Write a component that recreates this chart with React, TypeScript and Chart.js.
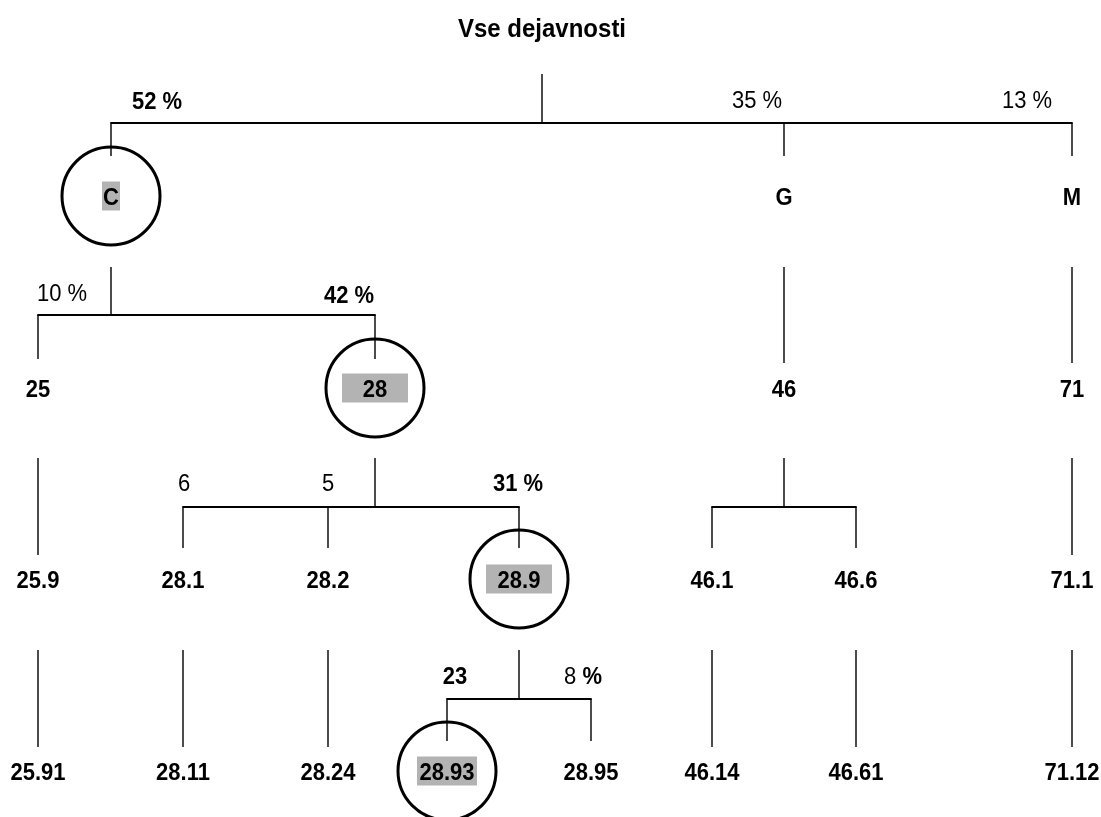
import React, { useEffect, useRef } from "react";
import { Chart, registerables } from "chart.js";

Chart.register(...registerables);

const FONT = '"Liberation Sans", Arial, Helvetica, sans-serif';

// ---- tree data ----
const nodeLabels = [
  "Vse dejavnosti",
  "C", "G", "M",
  "25", "28", "46", "71",
  "25.9", "28.1", "28.2", "28.9", "46.1", "46.6", "71.1",
  "25.91", "28.11", "28.24", "28.93", "28.95", "46.14", "46.61", "71.12",
];
const nodeLevel = [0, 1, 1, 1, 2, 2, 2, 2, 3, 3, 3, 3, 3, 3, 3, 4, 4, 4, 4, 4, 4, 4, 4];
const nodeParent = [-1, 0, 0, 0, 1, 1, 2, 3, 4, 5, 5, 5, 6, 6, 7, 8, 9, 10, 11, 11, 12, 13, 14];
// horizontal position of each node in the diagram
const nodeX = [542, 111, 784, 1072, 38, 375, 784, 1072, 38, 183, 328, 519, 712, 856, 1072, 38, 183, 328, 447, 591, 712, 856, 1072];
const highlightedNodes = [1, 5, 11, 18];

// shares shown above the branches
const shareTexts = ["52 %", "35 %", "13 %", "10 %", "42 %", "6", "5", "31 %", "23", "8 %"];
const shareWeight = ["bold", "normal", "normal", "normal", "bold", "normal", "normal", "bold", "bold", "mixed"];
const shareX = [157, 757, 1027, 62, 349, 184, 328, 518, 455, 583];
const shareY = [100, 99, 99, 292, 294, 482, 482, 482, 675, 675];

// ---- layout (vertical positions per level) ----
const levelLabelY = [28, 196, 388, 579, 771];
const levelStemTop = [74, 267, 458, 650];
const levelBarY = [123, 315, 507, 699];
const levelDropEnd = [156, 359, 548, 741];
const levelSingleEnd = [156, 363, 555, 747];
const highlightBoxWidths = [18, 66, 66, 60];

const FONT_SIZE = 22;
const TITLE_SIZE = 24;
const TEXT_STRETCH = 1.1;

function buildLineDatasets() {
  const sets: any[] = [];
  const seg = (pts: { x: number; y: number }[], w: number) => ({
    type: "line",
    data: pts,
    showLine: true,
    borderColor: "#000",
    borderWidth: w,
    pointRadius: 0,
    fill: false,
    tension: 0,
    clip: false,
    borderCapStyle: "butt",
  });
  for (let p = 0; p < nodeLabels.length; p++) {
    const kids: number[] = [];
    nodeParent.forEach((par, i) => { if (par === p) kids.push(i); });
    if (!kids.length) continue;
    const l = nodeLevel[p];
    const px = nodeX[p];
    if (kids.length === 1) {
      sets.push(seg([{ x: px, y: levelStemTop[l] }, { x: px, y: levelSingleEnd[l] }], 1.4));
    } else {
      const xs = kids.map((k) => nodeX[k]);
      const lo = Math.min(...xs), hi = Math.max(...xs);
      sets.push(seg([{ x: px, y: levelStemTop[l] }, { x: px, y: levelBarY[l] }], 1.4));
      sets.push(seg([{ x: lo - 0.7, y: levelBarY[l] }, { x: hi + 0.7, y: levelBarY[l] }], 2.2));
      kids.forEach((k) => {
        sets.push(seg([{ x: nodeX[k], y: levelBarY[l] }, { x: nodeX[k], y: levelDropEnd[l] }], 1.4));
      });
    }
  }
  return sets;
}

function drawText(ctx: any, t: string, cx: number, cy: number, size: number, align: string) {
  ctx.save();
  ctx.translate(cx, cy);
  ctx.scale(1, TEXT_STRETCH);
  ctx.textAlign = align;
  ctx.textBaseline = "alphabetic";
  ctx.fillText(t, 0, size * 0.358);
  ctx.restore();
}

const labelPlugin = {
  id: "treeLabels",
  afterDatasetsDraw(chart: any) {
    const ctx = chart.ctx;
    const xs = chart.scales.x;
    const ys = chart.scales.y;
    ctx.save();
    // grey highlight boxes
    highlightedNodes.forEach((n, i) => {
      const cx = xs.getPixelForValue(nodeX[n]);
      const cy = ys.getPixelForValue(levelLabelY[nodeLevel[n]]);
      const w = highlightBoxWidths[i];
      ctx.fillStyle = "#b3b3b3";
      ctx.fillRect(cx - w / 2, cy - 14.5, w, 29);
    });
    // node labels
    ctx.fillStyle = "#000";
    nodeLabels.forEach((t, n) => {
      const cx = xs.getPixelForValue(nodeX[n]);
      const cy = ys.getPixelForValue(levelLabelY[nodeLevel[n]]);
      const size = nodeLevel[n] === 0 ? TITLE_SIZE : FONT_SIZE;
      ctx.font = `bold ${size}px ${FONT}`;
      drawText(ctx, t, cx, cy, size, "center");
    });
    // share labels
    shareTexts.forEach((t, i) => {
      const cx = xs.getPixelForValue(shareX[i]);
      const cy = ys.getPixelForValue(shareY[i]);
      if (shareWeight[i] === "mixed") {
        const idx = t.indexOf("%");
        const a = t.slice(0, idx);
        const b = t.slice(idx);
        ctx.font = `${FONT_SIZE}px ${FONT}`;
        const wa = ctx.measureText(a).width;
        ctx.font = `bold ${FONT_SIZE}px ${FONT}`;
        const wb = ctx.measureText(b).width;
        const start = cx - (wa + wb) / 2;
        ctx.font = `${FONT_SIZE}px ${FONT}`;
        drawText(ctx, a, start, cy, FONT_SIZE, "left");
        ctx.font = `bold ${FONT_SIZE}px ${FONT}`;
        drawText(ctx, b, start + wa, cy, FONT_SIZE, "left");
      } else {
        ctx.font = `${shareWeight[i] === "bold" ? "bold " : ""}${FONT_SIZE}px ${FONT}`;
        drawText(ctx, t, cx, cy, FONT_SIZE, "center");
      }
    });
    ctx.restore();
  },
};

export default function App() {
  const ref = useRef<HTMLCanvasElement | null>(null);
  useEffect(() => {
    if (!ref.current) return;
    const circleData = highlightedNodes.map((n) => ({ x: nodeX[n], y: levelLabelY[nodeLevel[n]] }));
    const chart = new Chart(ref.current, {
      type: "scatter",
      data: {
        datasets: [
          ...buildLineDatasets(),
          {
            type: "scatter",
            data: circleData,
            pointStyle: "circle",
            pointRadius: 49,
            pointBorderWidth: 3,
            pointBackgroundColor: "rgba(0,0,0,0)",
            pointBorderColor: "#000",
            clip: false,
          } as any,
        ],
      },
      options: {
        animation: false,
        responsive: true,
        maintainAspectRatio: false,
        events: [],
        layout: { padding: 0, autoPadding: false },
        plugins: { legend: { display: false }, tooltip: { enabled: false } },
        scales: {
          x: { type: "linear", min: 0, max: 1101, display: false },
          y: { type: "linear", min: 0, max: 817, reverse: true, display: false },
        },
      },
      plugins: [labelPlugin],
    } as any);
    return () => chart.destroy();
  }, []);
  return (
    <div style={{ position: "absolute", left: 0, top: 0, width: 1101, height: 817, background: "#fff" }}>
      <canvas ref={ref} />
    </div>
  );
}
